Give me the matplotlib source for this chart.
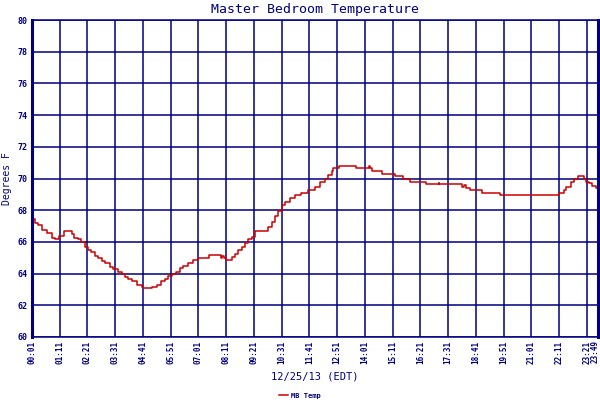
import matplotlib
matplotlib.use("Agg")
import matplotlib.pyplot as plt

# Data (minutes after midnight, degrees F)
minutes = [1, 9, 16, 26, 39, 51, 59, 67, 69, 82, 97, 102, 107, 117, 124, 135,
           142, 150, 160, 167, 177, 185, 198, 205, 218, 228, 235, 243, 253, 266,
           278, 281, 301, 303, 316, 326, 336, 344, 354, 361, 364, 374, 382, 394,
           407, 419, 445, 447, 472, 477, 480, 485, 490, 497, 505, 513, 520, 530,
           538, 545, 555, 563, 593, 596, 606, 613, 621, 631, 639, 651, 664, 679,
           694, 697, 709, 714, 722, 727, 734, 739, 747, 757, 760, 772, 775, 815,
           818, 845, 850, 855, 860, 883, 885, 911, 916, 933, 936, 949, 954, 994,
           996, 1027, 1029, 1085, 1087, 1090, 1095, 1102, 1107, 1135, 1137, 1180,
           1183, 1326, 1331, 1339, 1344, 1349, 1354, 1362, 1369, 1377, 1379, 1392,
           1394, 1399, 1407, 1414, 1424, 1429]
mb_temp = [67.43, 67.20, 67.06, 66.75, 66.54, 66.27, 66.20, 66.20, 66.40, 66.70,
           66.70, 66.50, 66.27, 66.20, 66.00, 65.70, 65.50, 65.35, 65.13, 64.96,
           64.80, 64.65, 64.44, 64.30, 64.10, 63.97, 63.80, 63.64, 63.53, 63.28,
           63.17, 63.07, 63.07, 63.17, 63.30, 63.53, 63.64, 63.85, 64.00, 64.00,
           64.10, 64.33, 64.48, 64.65, 64.86, 64.97, 64.97, 65.15, 65.15, 65.00,
           65.10, 64.97, 64.86, 64.86, 65.03, 65.24, 65.48, 65.66, 65.90, 66.16,
           66.33, 66.70, 66.70, 66.92, 67.27, 67.63, 67.95, 68.33, 68.54, 68.80,
           68.96, 69.10, 69.10, 69.27, 69.27, 69.48, 69.48, 69.76, 69.76, 69.97,
           70.20, 70.47, 70.64, 70.64, 70.79, 70.79, 70.64, 70.64, 70.79, 70.64,
           70.47, 70.47, 70.28, 70.28, 70.16, 70.16, 69.95, 69.95, 69.76, 69.76,
           69.63, 69.70, 69.63, 69.63, 69.44, 69.60, 69.42, 69.42, 69.27, 69.27,
           69.10, 69.10, 68.96, 68.96, 69.10, 69.10, 69.27, 69.48, 69.48, 69.80,
           69.97, 69.97, 70.16, 70.16, 69.97, 69.80, 69.70, 69.55, 69.38, 69.27]

tick_minutes = [1, 71, 141, 211, 281, 351, 421, 491, 561, 631, 701, 771, 841,
                911, 981, 1051, 1121, 1191, 1261, 1331, 1401, 1429]
tick_labels = ["00:01", "01:11", "02:21", "03:31", "04:41", "05:51", "07:01",
               "08:11", "09:21", "10:31", "11:41", "12:51", "14:01", "15:11",
               "16:21", "17:31", "18:41", "19:51", "21:01", "22:11", "23:21",
               "23:49"]
y_ticks = [60, 62, 64, 66, 68, 70, 72, 74, 76, 78, 80]

navy = "#000080"
red = "#cc0000"
mono = "DejaVu Sans Mono"
tick_font = dict(fontsize=5.5, family=mono, color=navy, fontweight="bold")

fig = plt.figure(figsize=(6, 4), dpi=100)
ax = fig.add_axes([32 / 600, 63 / 400, 566 / 600, 317 / 400])

ax.plot(minutes, mb_temp, color=red, linewidth=1.1, drawstyle="steps-post",
        label="MB Temp")

ax.set_xlim(1, 1429)
ax.set_ylim(60, 80)
ax.set_xticks(tick_minutes)
# last label is drawn separately, nudged left so it stays inside the picture
ax.set_xticklabels(tick_labels[:-1] + [""], rotation=90, **tick_font)
ax.annotate(tick_labels[-1], xy=(tick_minutes[-1], 0),
            xycoords=ax.get_xaxis_transform(), xytext=(-2.2, -2.2),
            textcoords="offset points", rotation=90, ha="center", va="top",
            **tick_font)
ax.set_yticks(y_ticks)
ax.set_yticklabels([str(v) for v in y_ticks], fontsize=6, family=mono,
                   color=navy, fontweight="bold")
ax.tick_params(length=0, pad=3)
ax.grid(True, color=navy, linewidth=1.1)
ax.set_axisbelow(True)

for side in ["top", "bottom"]:
    ax.spines[side].set_color(navy)
    ax.spines[side].set_linewidth(1.1)
for side in ["left", "right"]:
    ax.spines[side].set_color(navy)
    ax.spines[side].set_linewidth(2.2)

ax.set_title("Master Bedroom Temperature", fontsize=9.5, family=mono,
             color=navy, pad=5)
ax.set_ylabel("Degrees F", fontsize=7, family=mono, color=navy, labelpad=4)
ax.set_xlabel("12/25/13 (EDT)", fontsize=7.5, family=mono, color=navy,
              labelpad=5)

fig.legend(loc="lower center", bbox_to_anchor=(0.5, -0.012), frameon=False,
           prop={"family": mono, "size": 5, "weight": "bold"},
           handlelength=1.3, handletextpad=0.5, labelcolor=navy)

fig.savefig("out.png", dpi=100, facecolor="white")
